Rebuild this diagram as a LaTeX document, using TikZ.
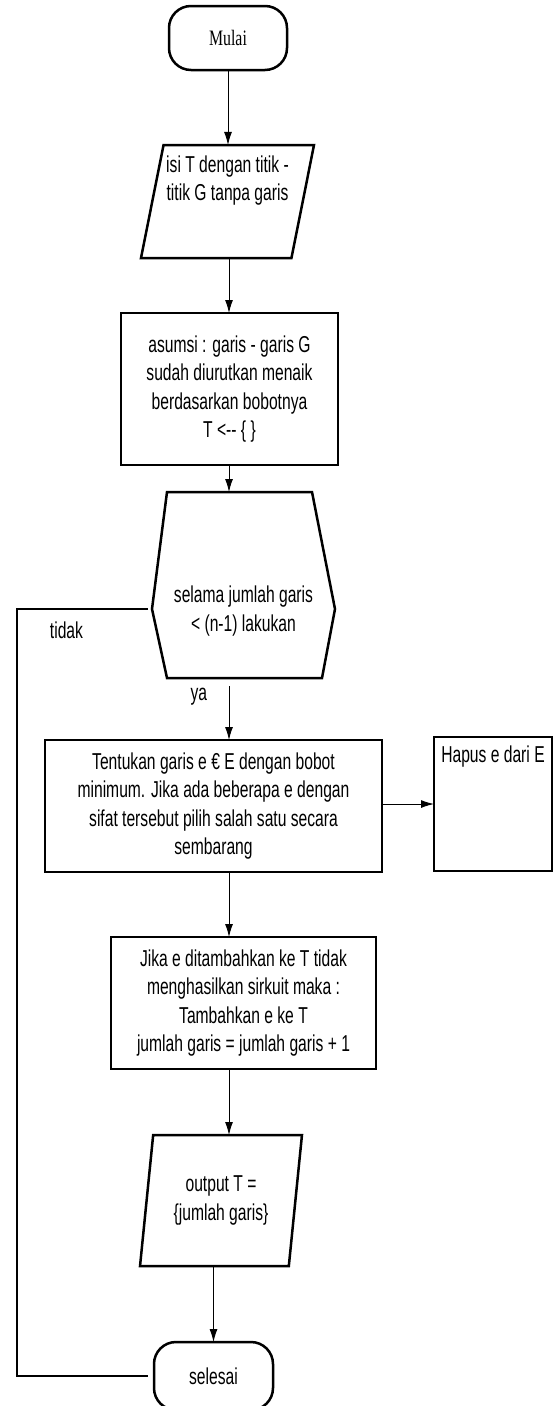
\documentclass[tikz,border=0pt]{standalone}
\usepackage{fontspec}
\setmainfont{Liberation Sans}[FakeStretch=0.68]
\newfontfamily\narrowserif{Liberation Serif}[FakeStretch=0.72]
\usetikzlibrary{positioning,shapes,arrows.meta}
\tikzstyle{block} = [draw, rectangle, line width=2.5pt, outer sep=0pt, inner sep=2pt, align=center]
\tikzstyle{term} = [draw, rectangle, rounded corners=22pt, line width=2.5pt, outer sep=0pt, minimum width=118pt, minimum height=64pt]
\tikzstyle{io} = [draw, trapezium, trapezium left angle=80, trapezium right angle=100, trapezium stretches=true, line width=2.5pt, outer sep=0pt, align=center]
\tikzstyle{outline} = [-, line width=2.5pt]
\tikzstyle{backline} = [-, line width=2pt]
\tikzstyle{coord} = [coordinate]
\newcommand{\flowfont}{\fontsize{23}{28.5}\selectfont}

\begin{document}
\begin{tikzpicture}[->,>={Latex[length=13pt,width=8pt]},x=1pt,y=-1pt,line width=1pt,font=\flowfont]
	\useasboundingbox (0,0) rectangle (555,1406);
	\coordinate (col) at (229,0);

	\node (mulai) [term, font=\narrowserif\fontsize{22}{26}\selectfont] at (228,38) {Mulai};
	\node (isi) [io, minimum width=173pt, minimum height=113pt, label={[align=center,yshift=21pt]center:{isi T dengan titik -\\titik G tanpa garis}}] at (227.5,201.5) {};
	\node (asumsi) [block, minimum width=217pt, minimum height=152pt] at (229.5,389) {asumsi : garis - garis G\\sudah diurutkan menaik\\berdasarkan bobotnya\\T <-{}- \{ \}};

	% kondisi perulangan
	\node (loop) [align=center] at (243.5,611) {selama jumlah garis\\< (n-1) lakukan};
	\draw [outline] ([shift={(-76.5,-119)}]loop.center) coordinate (hexnw)
		-- ([shift={(68.5,-119)}]loop.center)
		-- ([shift={(91.5,-2)}]loop.center)
		-- ([shift={(78.5,67)}]loop.center)
		-- ([shift={(-76.5,67)}]loop.center) coordinate (hexsw)
		-- ([shift={(-91.5,-2)}]loop.center) coordinate (hexw) -- cycle;
	\coordinate (yaout) at (229,686);
	\node (tidak) at (66.5,630.5) {tidak};

	\node (tentukan) [block, minimum width=337pt, minimum height=132pt] at (213.5,806) {Tentukan garis e € E dengan bobot\\minimum. Jika ada beberapa e dengan\\sifat tersebut pilih salah satu secara\\sembarang};
	\node (hapus) [block, minimum width=118pt, minimum height=134pt, label={[anchor=north,yshift=-5pt]north:Hapus e dari E}] at (493,804) {};
	\node (jika) [block, minimum width=265pt, minimum height=132pt] at (243.5,1003) {Jika e ditambahkan ke T tidak\\menghasilkan sirkuit maka :\\Tambahkan e ke T\\jumlah garis = jumlah garis + 1};
	\node (output) [io, minimum width=162pt, minimum height=131pt] at (221,1200.5) {output T =\\\{jumlah garis\}};
	\node (selesai) [term, minimum width=119pt, minimum height=68pt] at (213.5,1376) {selesai};

	\draw (mulai) -- (mulai |- isi.north);
	\draw (isi.south -| col) -- (asumsi.north -| col);
	\draw (asumsi.south -| col) -- (hexnw -| col);
	\draw (yaout) -- node (ya) [pos=0.2, left=18pt] {ya} (yaout |- tentukan.north);
	\draw (tentukan.east |- hapus) -- (hapus.west);
	\draw (tentukan.south -| col) -- (jika.north -| col);
	\draw (jika.south -| col) -- (output.north -| col);
	\draw (output.south -| selesai) -- (selesai.north);
	\draw [backline] ([xshift=-4pt]hexw) -- (hexw -| 17,0) -- (17,0 |- selesai) -- ([xshift=-6pt]selesai.west);
\end{tikzpicture}
\end{document}
